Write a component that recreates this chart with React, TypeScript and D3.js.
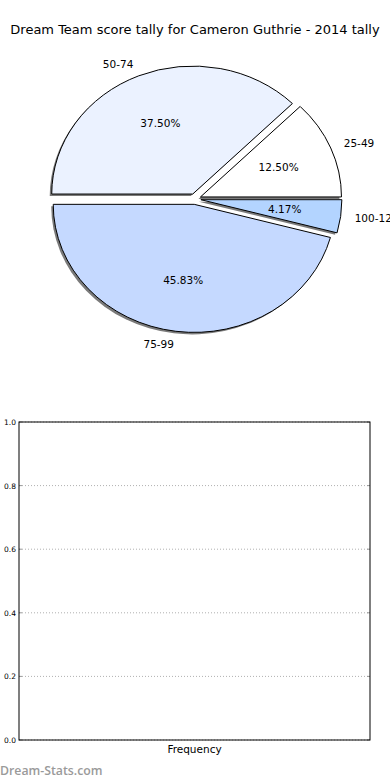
import React, { useEffect, useRef } from 'react';
import * as d3 from 'd3';

// pie data (score buckets and how many games landed in each)
const buckets = ['25-49', '50-74', '75-99', '100-124'];
const counts = [3, 9, 11, 1];
const sliceColors = ['#ffffff', '#ebf2ff', '#c5d9ff', '#b3d4ff'];

// frequency panel ticks
const yTicks = [0, 0.2, 0.4, 0.6, 0.8, 1.0];

const width = 390, height = 780;
const pieCenter = { x: 195, y: 199 };
const rx = 141, ry = 128;
const explode = 0.042;
const box = { left: 19, right: 370, top: 422, bottom: 740 };

export default function App() {
    const yAxisRef = useRef<SVGGElement>(null);

    // y scale for the (empty) frequency chart
    const yScale = d3.scaleLinear().domain([0, 1]).range([box.bottom, box.top]);

    // d3 angles run clockwise from 12 o'clock, so go backwards from 3 o'clock
    // to get matplotlib's counter-clockwise pie starting at east
    const slices = d3.pie<number>().sort(null)
        .startAngle(Math.PI / 2)
        .endAngle(Math.PI / 2 - 2 * Math.PI)(counts);
    const arc = d3.arc<d3.PieArcDatum<number>>().innerRadius(0).outerRadius(1);
    const total = d3.sum(counts);

    useEffect(() => {
        const axis = d3.axisLeft(yScale).tickValues(yTicks)
            .tickFormat(d3.format('.1f')).tickSize(0).tickPadding(3);
        const g = d3.select(yAxisRef.current!);
        g.call(axis);
        g.select('.domain').remove();
        g.selectAll('text').attr('font-size', 7.5)
            .attr('font-family', 'DejaVu Sans').attr('fill', '#000');
    }, []);

    return (
        <svg width={width} height={height} style={{ position: 'absolute', left: 0, top: 0 }}
            fontFamily="DejaVu Sans">
            <rect width={width} height={height} fill="#fff" />
            <text x={width / 2} y={34} textAnchor="middle" fontSize={13}>
                Dream Team score tally for Cameron Guthrie - 2014 tally
            </text>

            {/* shadows first so all slices sit on top */}
            {slices.map((s, i) => {
                const mid = (s.startAngle + s.endAngle) / 2;
                const ox = pieCenter.x + explode * rx * Math.sin(mid);
                const oy = pieCenter.y - explode * ry * Math.cos(mid);
                return <path key={'sh' + i} d={arc(s) || ''}
                    transform={`translate(${ox - 2},${oy + 2}) scale(${rx},${ry})`}
                    fill="#7a7a7a" />
            })}
            {slices.map((s, i) => {
                const mid = (s.startAngle + s.endAngle) / 2;
                const ox = pieCenter.x + explode * rx * Math.sin(mid);
                const oy = pieCenter.y - explode * ry * Math.cos(mid);
                const lx = ox + 1.1 * rx * Math.sin(mid);
                const ly = oy - 1.1 * ry * Math.cos(mid);
                const px = ox + 0.6 * rx * Math.sin(mid);
                const py = oy - 0.6 * ry * Math.cos(mid);
                return (
                    <g key={'sl' + i}>
                        <path d={arc(s) || ''}
                            transform={`translate(${ox},${oy}) scale(${rx},${ry})`}
                            fill={sliceColors[i]} stroke="#000" strokeWidth={1}
                            vectorEffect="non-scaling-stroke" strokeLinejoin="round" />
                        <text x={lx} y={ly} dy="0.35em" fontSize={10.5}
                            textAnchor={Math.sin(mid) > 0 ? 'start' : 'end'}>{buckets[i]}</text>
                        <text x={px} y={py} dy="0.35em" fontSize={10.5}
                            textAnchor="middle">{d3.format('.2f')(counts[i] / total * 100)}%</text>
                    </g>
                )
            })}

            {/* frequency panel */}
            {yTicks.map(t => (
                <g key={'gr' + t}>
                    <line x1={box.left} x2={box.right} y1={yScale(t)} y2={yScale(t)}
                        stroke="#b0b0b0" strokeDasharray="1,2" />
                    <line x1={box.left} x2={box.left + 3} y1={yScale(t)} y2={yScale(t)} stroke="#999" />
                    <line x1={box.right - 3} x2={box.right} y1={yScale(t)} y2={yScale(t)} stroke="#999" />
                </g>
            ))}
            <rect x={box.left} y={box.top} width={box.right - box.left} height={box.bottom - box.top}
                fill="none" stroke="#000" strokeWidth={1} />
            <g ref={yAxisRef} transform={`translate(${box.left},0)`} />
            <text x={(box.left + box.right) / 2} y={753} textAnchor="middle" fontSize={10.5}>Frequency</text>

            <text x={0} y={775} fontSize={12.3} fontFamily="Open Sans" fontWeight={600} fill="#9a9a9a">
                Dream-Stats.com
            </text>
        </svg>
    );
}
